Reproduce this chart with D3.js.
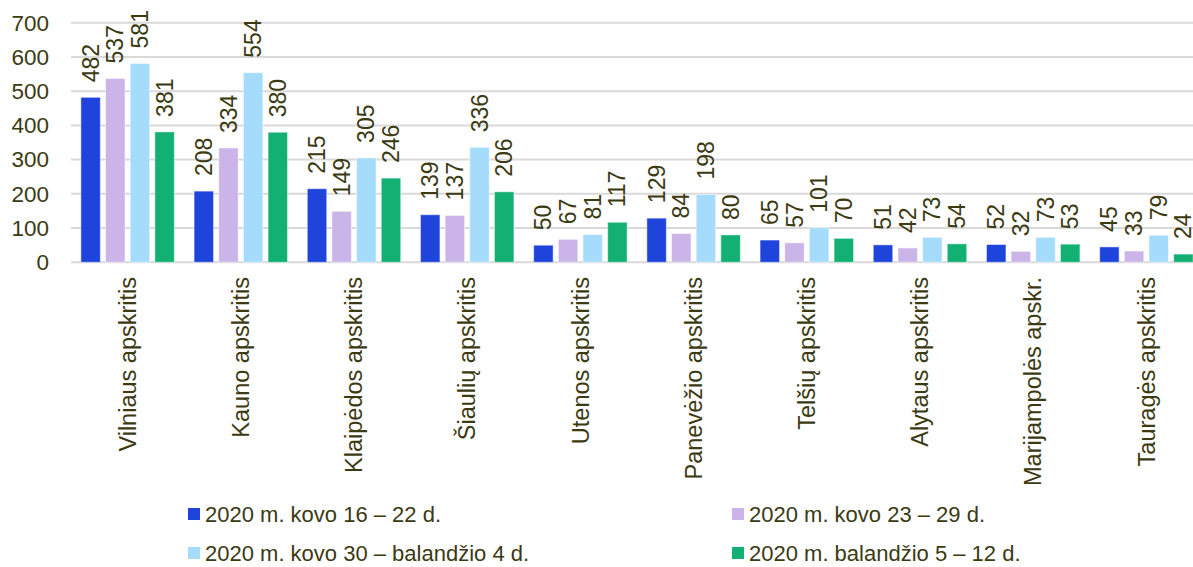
<!DOCTYPE html>
<html>
<head>
<meta charset="utf-8">
<script src="https://cdn.jsdelivr.net/npm/d3@7"></script>
<style>
  body { margin: 0; background: #fff; }
  svg { display: block; font-family: "Liberation Sans", Arial, sans-serif; }
</style>
</head>
<body>
<svg id="chart" width="1193" height="567"></svg>
<script>
// data
const categories = ['Vilniaus apskritis', 'Kauno apskritis', 'Klaipėdos apskritis', 'Šiaulių apskritis',
    'Utenos apskritis', 'Panevėžio apskritis', 'Telšių apskritis', 'Alytaus apskritis',
    'Marijampolės apskr.', 'Tauragės apskritis'];
const seriesNames = ['2020 m. kovo 16 – 22 d.', '2020 m. kovo 23 – 29 d.',
    '2020 m. kovo 30 – balandžio 4 d.', '2020 m. balandžio 5 – 12 d.'];
const week1 = [482, 208, 215, 139, 50, 129, 65, 51, 52, 45];
const week2 = [537, 334, 149, 137, 67, 84, 57, 42, 32, 33];
const week3 = [581, 554, 305, 336, 81, 198, 101, 73, 73, 79];
const week4 = [381, 380, 246, 206, 117, 80, 70, 54, 53, 24];
const yTicks = [0, 100, 200, 300, 400, 500, 600, 700];
const colors = ['#1f44db', '#cbb5e8', '#a6dcfb', '#12b073'];

const values = [week1, week2, week3, week4];
const textColor = '#3b3a12';

const svg = d3.select('#chart');

const x0 = d3.scaleBand().domain(categories).range([71, 1203]);
const x1 = d3.scaleBand().domain(d3.range(4)).range([0, x0.bandwidth()])
    .paddingInner(0.21).paddingOuter(0.4);
const y = d3.scaleLinear().domain([0, 700]).range([262.3, 22.7]);

// gridlines
svg.append('g')
    .selectAll('line')
    .data(yTicks)
    .join('line')
    .attr('x1', 71)
    .attr('x2', 1203)
    .attr('y1', d => y(d))
    .attr('y2', d => y(d))
    .attr('stroke', '#d9d9d9')
    .attr('stroke-width', 2);

// y tick labels
svg.append('g')
    .selectAll('text')
    .data(yTicks)
    .join('text')
    .attr('x', 49)
    .attr('y', d => y(d))
    .attr('dy', '0.35em')
    .attr('text-anchor', 'end')
    .attr('font-size', 22.5)
    .attr('fill', textColor)
    .text(d => d);

// bars and value labels
const groups = svg.append('g')
    .selectAll('g')
    .data(categories)
    .join('g')
    .attr('transform', d => `translate(${x0(d)},0)`);

const cells = groups.selectAll('g')
    .data((c, ci) => values.map((s, si) => ({ si, v: s[ci] })))
    .join('g');

cells.append('rect')
    .attr('x', d => x1(d.si))
    .attr('width', x1.bandwidth())
    .attr('y', d => y(d.v))
    .attr('height', d => y(0) - y(d.v))
    .attr('fill', d => colors[d.si])
    .attr('stroke', '#fff')
    .attr('stroke-opacity', 0.5)
    .attr('stroke-width', 1);

cells.append('text')
    .attr('transform', d => `translate(${x1(d.si) + x1.bandwidth() / 2},${y(d.v) - 15}) rotate(-90)`)
    .attr('dy', '0.35em')
    .attr('font-size', 23)
    .attr('fill', textColor)
    .text(d => d.v);

// category labels
svg.append('g')
    .selectAll('text')
    .data(categories)
    .join('text')
    .attr('transform', d => `translate(${x0(d) + x0.bandwidth() / 2},277) rotate(-90)`)
    .attr('text-anchor', 'end')
    .attr('dy', '0.35em')
    .attr('font-size', 23.5)
    .attr('fill', textColor)
    .text(d => d);

// legend
const legendPos = [[188, 514], [732, 514], [188, 553], [732, 553]];
const legend = svg.append('g')
    .selectAll('g')
    .data(seriesNames)
    .join('g')
    .attr('transform', (d, i) => `translate(${legendPos[i][0]},${legendPos[i][1]})`);

legend.append('rect')
    .attr('x', 0)
    .attr('y', -6)
    .attr('width', 12)
    .attr('height', 12)
    .attr('fill', (d, i) => colors[i]);

legend.append('text')
    .attr('x', 17)
    .attr('dy', '0.35em')
    .attr('font-size', 22)
    .attr('fill', textColor)
    .text(d => d);
</script>
</body>
</html>
